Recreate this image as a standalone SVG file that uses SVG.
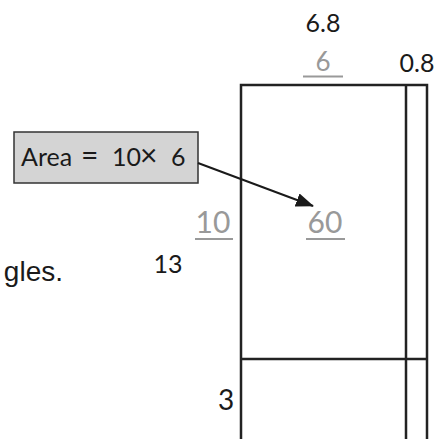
<svg xmlns="http://www.w3.org/2000/svg" width="436" height="439" viewBox="0 0 436 439">
<style>
.t{font-family:Lato,"Open Sans","Liberation Sans",sans-serif;fill:#1a1a1a}
.g{font-family:Lato,"Open Sans","Liberation Sans",sans-serif;fill:#999}
.ul{stroke:#999;stroke-width:2}
.ln{stroke:#222;stroke-width:2.5;fill:none}
</style>
<defs>
<marker id="ah" markerUnits="userSpaceOnUse" markerWidth="18" markerHeight="14" refX="17" refY="7" orient="auto">
<path d="M0,0 L18,7 L0,14 z" fill="#1a1a1a"/>
</marker>
</defs>
<rect width="436" height="439" fill="#fff"/>
<g id="figure">
<path class="ln" d="M241,439 V85 H427 V439 M406,85 V439 M241,359 H427"/>
</g>
<g id="labels">
<text class="t" x="323" y="32" font-size="25" text-anchor="middle">6.8</text>
<text class="g" x="323" y="71" font-size="26" text-anchor="middle">6</text>
<line class="ul" x1="303" y1="76.5" x2="343" y2="76.5"/>
<text class="t" x="417" y="72" font-size="25" text-anchor="middle">0.8</text>
<text class="g" x="213" y="233" font-size="30" text-anchor="middle">10</text>
<line class="ul" x1="195" y1="239" x2="233" y2="239"/>
<text class="g" x="325" y="233" font-size="30" text-anchor="middle">60</text>
<line class="ul" x1="306" y1="239" x2="345" y2="239"/>
<text class="t" x="168" y="273" font-size="25" text-anchor="middle">13</text>
<text class="t" x="226" y="410" font-size="28" text-anchor="middle">3</text>
<text x="63" y="281" font-size="28" text-anchor="end" font-family="'Liberation Sans',Arial,sans-serif" fill="#1a1a1a">gles.</text>
</g>
<g id="area-box">
<rect x="14" y="132" width="184" height="51" fill="#d4d4d4" stroke="#333" stroke-width="1.5"/>
<text class="t" y="166" font-size="25"><tspan x="21">Area</tspan><tspan x="81" font-size="30">=</tspan><tspan x="112">10</tspan><tspan x="140" font-size="30">×</tspan><tspan x="171">6</tspan></text>
</g>
<g id="connectors">
<line x1="198" y1="163" x2="313" y2="206" stroke="#1a1a1a" stroke-width="2" marker-end="url(#ah)"/>
</g>
</svg>
